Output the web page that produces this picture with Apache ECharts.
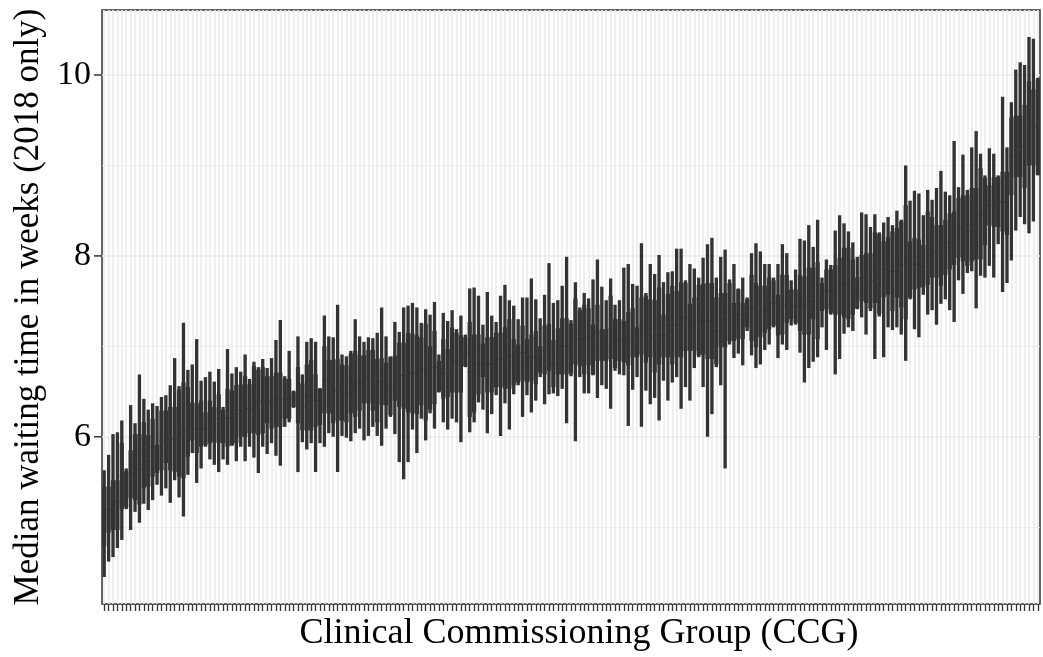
<!DOCTYPE html>
<html>
<head>
<meta charset="utf-8">
<script src="https://cdn.jsdelivr.net/npm/echarts@6/dist/echarts.min.js"></script>
<style>
  html, body { margin: 0; padding: 0; background: #ffffff; }
  #chart { width: 1043px; height: 657px; }
</style>
</head>
<body>
<div id="chart"></div>
<script>
// Monthly median waiting time (weeks) per CCG in 2018, summarised as
// lower whisker, lower quartile, median, upper quartile, upper whisker.
// CCGs are ordered by their median.
const whiskerLow = [
  4.45,4.62,4.67,4.77,4.86,5.20,4.97,5.17,5.05,5.26,
  5.19,5.30,5.47,5.35,5.43,5.27,5.52,5.33,5.12,5.58,
  5.82,5.49,5.65,5.89,5.75,5.69,5.61,5.75,5.69,5.90,
  5.73,5.89,5.73,5.89,5.77,5.60,5.89,5.81,5.93,5.79,
  5.68,6.11,6.16,6.32,5.61,5.94,5.86,5.93,5.61,5.93,
  5.89,6.04,6.00,5.61,6.01,5.99,5.95,6.04,6.09,5.96,
  6.01,6.11,6.01,5.90,6.09,6.22,6.03,5.72,5.53,5.72,
  6.08,5.82,6.20,5.96,6.26,6.09,6.49,6.16,6.08,6.20,
  6.16,5.94,6.77,6.05,6.16,6.38,6.30,6.04,6.25,6.46,
  6.01,6.37,6.08,6.47,6.57,6.22,6.46,6.27,6.40,6.66,
  6.36,6.47,6.48,6.45,6.53,6.15,6.67,5.95,6.66,6.48,
  6.48,6.68,6.43,6.57,6.53,6.31,6.73,6.69,6.68,6.12,
  6.52,6.66,6.11,6.51,6.36,6.43,6.18,6.62,6.40,6.60,
  6.66,6.31,6.55,6.40,6.76,6.88,6.55,6.00,6.25,6.77,
  6.57,5.65,7.02,6.87,6.92,6.79,7.17,6.90,6.76,6.80,
  6.96,7.02,7.21,6.87,7.02,6.96,7.23,7.24,6.93,6.60,
  6.76,6.83,6.88,7.21,6.96,7.35,6.69,6.86,7.14,7.21,
  7.17,7.41,7.32,7.13,7.39,6.86,7.33,6.88,7.21,7.18,
  7.21,7.13,6.84,7.52,7.19,7.10,7.57,7.35,7.40,7.24,
  7.47,7.52,7.40,7.27,7.73,7.58,7.81,7.83,7.42,7.78,
  7.76,7.89,7.76,8.13,7.60,7.70,7.95,8.28,8.43,8.35,
  8.25,8.38,8.89
];
const quartileLow = [
  4.79,4.94,4.97,4.97,5.20,5.22,5.32,5.30,5.25,5.43,
  5.45,5.56,5.60,5.63,5.71,5.63,5.61,5.56,5.54,5.78,
  5.96,5.82,5.89,5.91,5.93,5.94,5.93,5.93,5.89,5.91,
  5.93,6.00,6.00,6.04,6.04,6.02,6.04,6.15,6.09,6.11,
  6.11,6.20,6.20,6.33,6.15,6.07,6.07,6.07,6.11,6.13,
  6.26,6.26,6.15,6.18,6.18,6.16,6.26,6.22,6.29,6.37,
  6.37,6.29,6.16,6.35,6.35,6.24,6.40,6.33,6.31,6.27,
  6.26,6.25,6.35,6.18,6.30,6.36,6.50,6.42,6.44,6.49,
  6.49,6.49,6.78,6.22,6.27,6.47,6.66,6.49,6.49,6.55,
  6.55,6.53,6.53,6.57,6.60,6.62,6.60,6.62,6.58,6.71,
  6.69,6.73,6.55,6.69,6.69,6.69,6.70,6.80,6.78,6.69,
  6.79,6.69,6.84,6.84,6.84,6.86,6.76,6.84,6.82,6.79,
  6.88,6.88,6.91,6.82,6.88,6.71,6.80,6.88,6.88,6.80,
  6.88,6.88,6.95,6.95,6.95,6.90,6.91,6.86,6.86,6.80,
  6.99,6.99,7.06,7.06,7.08,7.08,7.21,7.06,6.99,7.10,
  7.15,7.19,7.23,7.12,7.13,7.26,7.30,7.26,7.17,7.13,
  7.13,7.30,7.08,7.39,7.41,7.37,7.35,7.35,7.32,7.30,
  7.35,7.42,7.50,7.48,7.42,7.48,7.36,7.54,7.57,7.39,
  7.54,7.43,7.30,7.54,7.63,7.65,7.65,7.68,7.76,7.76,
  7.67,7.79,7.85,7.90,7.98,7.94,7.89,7.94,7.96,7.96,
  8.12,8.34,8.32,8.32,8.27,8.23,8.67,8.87,8.87,8.75,
  9.00,9.00,8.90
];
const medians = [
  5.12,5.19,5.25,5.28,5.56,5.42,5.59,5.67,5.64,5.80,
  5.73,5.88,5.75,5.96,6.00,5.98,5.97,6.04,6.07,6.16,
  6.17,6.09,6.14,6.09,6.16,6.14,6.20,6.11,6.21,6.21,
  6.25,6.29,6.33,6.31,6.40,6.38,6.40,6.40,6.38,6.41,
  6.42,6.42,6.43,6.42,6.45,6.33,6.44,6.46,6.40,6.33,
  6.63,6.55,6.50,6.52,6.50,6.48,6.62,6.58,6.60,6.64,
  6.66,6.62,6.51,6.61,6.58,6.56,6.65,6.68,6.68,6.71,
  6.70,6.70,6.75,6.72,6.66,6.77,6.69,6.75,6.70,6.85,
  6.83,6.80,6.93,6.72,6.70,6.80,6.84,6.80,6.81,6.85,
  6.86,6.87,6.90,6.83,6.81,6.93,6.85,6.88,6.88,6.86,
  6.96,6.99,6.81,6.95,7.00,7.00,6.98,7.15,7.08,7.08,
  7.10,6.97,7.15,7.01,7.02,7.20,7.03,7.07,7.05,7.08,
  7.15,7.05,7.23,7.19,7.20,7.11,7.23,7.12,7.23,7.23,
  7.24,7.29,7.32,7.21,7.25,7.29,7.30,7.28,7.28,7.17,
  7.29,7.30,7.38,7.27,7.35,7.28,7.36,7.42,7.34,7.38,
  7.41,7.48,7.48,7.34,7.46,7.52,7.46,7.44,7.48,7.45,
  7.50,7.58,7.50,7.55,7.62,7.60,7.63,7.67,7.70,7.69,
  7.66,7.60,7.76,7.76,7.73,7.87,7.80,7.85,7.88,7.83,
  7.92,7.90,7.93,7.85,7.91,7.91,7.88,8.08,8.10,8.04,
  8.00,8.09,8.15,8.20,8.30,8.31,8.28,8.34,8.35,8.46,
  8.49,8.56,8.60,8.60,8.60,8.58,9.10,9.21,9.22,9.20,
  9.45,9.43,9.45
];
const quartileHigh = [
  5.45,5.45,5.52,5.52,5.93,5.62,5.85,6.03,6.03,6.16,
  6.02,6.20,5.91,6.29,6.29,6.33,6.33,6.52,6.60,6.55,
  6.38,6.37,6.40,6.27,6.40,6.33,6.47,6.30,6.53,6.51,
  6.57,6.58,6.67,6.58,6.78,6.74,6.77,6.67,6.67,6.71,
  6.71,6.64,6.64,6.50,6.77,6.59,6.80,6.85,6.69,6.53,
  7.00,6.85,6.85,6.86,6.80,6.79,6.92,6.95,6.90,6.90,
  6.96,6.96,6.86,6.87,6.82,6.88,6.90,7.04,7.04,7.15,
  7.14,7.12,7.10,7.25,7.00,7.17,6.84,7.08,6.97,7.21,
  7.15,7.12,7.10,7.27,7.13,7.13,7.03,7.10,7.10,7.15,
  7.15,7.21,7.30,7.08,7.02,7.23,7.08,7.13,7.17,7.00,
  7.23,7.25,7.07,7.20,7.31,7.31,7.25,7.53,7.40,7.46,
  7.42,7.24,7.46,7.19,7.19,7.56,7.30,7.30,7.28,7.38,
  7.42,7.21,7.54,7.56,7.52,7.51,7.65,7.35,7.58,7.67,
  7.61,7.71,7.70,7.47,7.54,7.68,7.69,7.70,7.70,7.54,
  7.59,7.59,7.70,7.48,7.63,7.48,7.52,7.79,7.70,7.67,
  7.67,7.76,7.73,7.57,7.79,7.79,7.63,7.63,7.79,7.77,
  7.87,7.87,7.93,7.70,7.85,7.85,7.90,7.98,8.09,8.09,
  7.96,7.76,8.01,8.03,8.03,8.26,8.24,8.16,8.21,8.27,
  8.31,8.38,8.56,8.16,8.20,8.18,8.12,8.49,8.43,8.34,
  8.34,8.40,8.47,8.49,8.64,8.67,8.67,8.75,8.75,8.97,
  8.86,8.78,8.87,8.87,8.93,8.93,9.53,9.55,9.55,9.67,
  9.93,9.84,9.95
];
const whiskerHigh = [
  5.63,5.80,6.03,6.05,6.18,5.65,6.35,6.15,6.69,6.42,
  6.30,6.37,6.34,6.44,6.46,6.57,6.87,6.56,7.26,6.74,
  6.80,7.08,6.62,6.66,6.72,6.61,6.75,6.33,6.97,6.70,
  6.77,6.72,6.91,6.64,6.83,6.77,6.86,6.76,6.87,7.07,
  7.29,6.67,6.95,6.51,7.11,6.69,7.05,7.09,7.05,6.54,
  7.34,7.11,7.10,7.46,6.91,6.89,6.95,7.30,7.11,7.05,
  7.10,7.09,7.15,7.43,7.11,6.89,7.27,7.16,7.43,7.45,
  7.48,7.43,7.26,7.41,7.35,7.49,6.91,7.37,7.28,7.40,
  7.19,7.34,7.13,7.64,7.65,7.56,7.24,7.60,7.34,7.27,
  7.56,7.68,7.51,7.45,7.30,7.54,7.54,7.75,7.52,7.31,
  7.57,7.92,7.48,7.51,7.67,7.99,7.29,7.71,7.43,7.59,
  7.53,7.74,7.96,7.66,7.51,7.75,7.46,7.51,7.87,7.91,
  7.69,7.67,8.14,7.59,7.91,7.80,8.01,7.71,7.82,7.83,
  8.08,8.08,7.73,7.91,7.86,7.76,7.98,8.13,8.20,7.76,
  7.99,8.07,7.74,7.91,7.64,7.76,7.54,8.03,8.14,8.05,
  7.91,7.91,7.76,7.91,8.13,8.03,7.73,7.85,8.19,8.17,
  8.34,8.10,8.40,7.76,7.96,7.90,8.28,8.45,8.36,8.27,
  8.15,7.99,8.48,8.46,8.32,8.46,8.26,8.37,8.43,8.34,
  8.50,8.40,9.00,8.61,8.72,8.69,8.45,8.73,8.62,8.75,
  8.94,8.71,8.67,9.27,8.76,9.12,8.73,9.20,9.38,9.13,
  8.89,9.19,9.13,8.89,9.76,9.20,9.70,10.06,10.14,10.11,
  10.42,10.40,9.97
];

// y axis labels and horizontal grid positions
const yTickValues = [6, 8, 10];
const yGridValues = [5, 6, 7, 8, 9, 10];

// CCG identifiers (not printed on the axis)
const ccgIds = whiskerLow.map((_, i) => 'CCG ' + (i + 1));

const ink = '#333333';
const gridGrey = '#EBEBEB';
const serif = 'Liberation Serif, Times New Roman, serif';
const panelLeft = 102;
const tickLen = 8;

// ggplot-style 5% padding around the data range
const dataLow = Math.min(...whiskerLow);
const dataHigh = Math.max(...whiskerHigh);
const pad = (dataHigh - dataLow) * 0.05;

const rows = ccgIds.map((_, i) => [
  i, whiskerLow[i], quartileLow[i], medians[i], quartileHigh[i], whiskerHigh[i]
]);

// one box per CCG: whisker line, filled inter-quartile box, median bar
function renderBox(params, api) {
  const x = api.value(0);
  const pLow = api.coord([x, api.value(1)]);
  const pQ1 = api.coord([x, api.value(2)]);
  const pMed = api.coord([x, api.value(3)]);
  const pQ3 = api.coord([x, api.value(4)]);
  const pHigh = api.coord([x, api.value(5)]);
  const band = api.size([1, 0])[0];
  const boxW = band * 0.96;
  return {
    type: 'group',
    children: [
      {
        type: 'line',
        shape: { x1: pLow[0], y1: pLow[1], x2: pHigh[0], y2: pHigh[1] },
        style: { stroke: ink, lineWidth: band * 0.76 }
      },
      {
        type: 'rect',
        shape: { x: pQ1[0] - boxW / 2, y: pQ3[1], width: boxW, height: pQ1[1] - pQ3[1] },
        style: { fill: ink }
      },
      {
        type: 'line',
        shape: { x1: pMed[0] - boxW / 2, y1: pMed[1], x2: pMed[0] + boxW / 2, y2: pMed[1] },
        style: { stroke: ink, lineWidth: 1 }
      }
    ]
  };
}

const gridLines = [
  ...ccgIds.map(id => ({ xAxis: id, lineStyle: { color: gridGrey, width: 1.6, type: 'solid' } })),
  ...yGridValues.map(v => ({
    yAxis: v,
    lineStyle: { color: gridGrey, width: v % 2 === 0 ? 1.6 : 0.8, type: 'solid' }
  }))
];

const chart = echarts.init(document.getElementById('chart'), null, { renderer: 'canvas' });
chart.setOption({
  animation: false,
  backgroundColor: '#ffffff',
  grid: {
    left: panelLeft, right: 3, top: 10, bottom: 52.5,
    show: true, backgroundColor: '#ffffff', borderColor: ink, borderWidth: 1.5
  },
  xAxis: {
    type: 'category',
    data: ccgIds,
    boundaryGap: true,
    axisLine: { show: false },
    axisTick: { show: true, alignWithLabel: true, interval: 0, length: 7, lineStyle: { color: ink, width: 1.3 } },
    axisLabel: { show: false },
    splitLine: { show: false },
    name: 'Clinical Commissioning Group (CCG)',
    nameLocation: 'middle',
    nameGap: 12,
    nameTextStyle: { fontFamily: serif, fontSize: 36, color: '#000000', verticalAlign: 'top', padding: [0, 0, 0, 16] }
  },
  yAxis: {
    type: 'value',
    min: dataLow - pad,
    max: dataHigh + pad,
    axisLine: { show: false },
    axisTick: { show: false },
    axisLabel: { customValues: yTickValues, fontFamily: serif, fontSize: 34, color: '#000000', margin: 11 },
    splitLine: { show: false },
    name: 'Median waiting time in weeks (2018 only)',
    nameLocation: 'middle',
    nameRotate: 90,
    nameGap: 56,
    nameTextStyle: { fontFamily: serif, fontSize: 35, color: '#000000' }
  },
  series: [
    {
      type: 'line',
      data: [],
      z: 1,
      silent: true,
      markLine: {
        z: 1,
        silent: true,
        symbol: ['none', 'none'],
        label: { show: false },
        emphasis: { disabled: true },
        animation: false,
        data: gridLines
      }
    },
    {
      type: 'custom',
      z: 3,
      silent: true,
      renderItem: renderBox,
      encode: { x: 0, y: [1, 2, 3, 4, 5] },
      data: rows
    }
  ]
});

// outward tick marks at the labelled y values, placed through the y axis scale
chart.setOption({
  graphic: yTickValues.map(v => {
    const y = chart.convertToPixel({ yAxisIndex: 0 }, v);
    return {
      type: 'line',
      silent: true,
      z: 10,
      shape: { x1: panelLeft - tickLen, y1: y, x2: panelLeft, y2: y },
      style: { stroke: ink, lineWidth: 1.5 }
    };
  })
});
</script>
</body>
</html>
